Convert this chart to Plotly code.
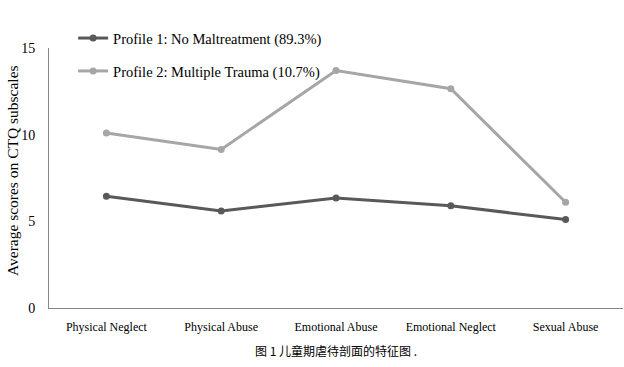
import plotly.graph_objects as go

categories = ["Physical Neglect", "Physical Abuse", "Emotional Abuse", "Emotional Neglect", "Sexual Abuse"]
profile1 = [6.45, 5.6, 6.35, 5.9, 5.1]
profile2 = [10.1, 9.15, 13.7, 12.65, 6.1]
name1 = "Profile 1: No Maltreatment (89.3%)"
name2 = "Profile 2: Multiple Trauma (10.7%)"
y_ticks = [0, 5, 10, 15]

fig = go.Figure()
fig.add_trace(go.Scatter(x=categories, y=profile1, name=name1, mode="lines+markers",
                         line=dict(color="#595959", width=3), marker=dict(size=7, color="#595959"),
                         legend="legend"))
fig.add_trace(go.Scatter(x=categories, y=profile2, name=name2, mode="lines+markers",
                         line=dict(color="#A6A6A6", width=3), marker=dict(size=7, color="#A6A6A6"),
                         legend="legend2"))

serif = "Liberation Serif, Times New Roman, serif"
fig.update_layout(
    width=624, height=367,
    margin=dict(l=49, r=1, t=48, b=59, autoexpand=False),
    paper_bgcolor="white", plot_bgcolor="white",
    font=dict(family=serif, size=13, color="#000000"),
    showlegend=True,
    legend=dict(x=0.042, y=1.038, xanchor="left", yanchor="middle", bgcolor="rgba(0,0,0,0)",
                font=dict(size=14.5, family=serif)),
    legend2=dict(x=0.042, y=0.9115, xanchor="left", yanchor="middle", bgcolor="rgba(0,0,0,0)",
                 font=dict(size=14.5, family=serif)),
    xaxis=dict(showgrid=False, showline=True, linecolor="#868686", linewidth=1,
               ticks="outside", ticklen=8, tickcolor="rgba(0,0,0,0)",
               tickfont=dict(size=12), range=[-0.5, 4.5], zeroline=False, automargin=False),
    yaxis=dict(range=[0, 15], tickvals=y_ticks, showgrid=False, showline=True,
               linecolor="#868686", linewidth=1, ticks="outside", ticklen=10,
               tickcolor="rgba(0,0,0,0)", zeroline=False, automargin=False,
               tickfont=dict(size=14)),
    annotations=[
        dict(text="图 1 儿童期虐待剖面的特征图 .", xref="paper", yref="paper",
             x=0.5, y=-0.165, xanchor="center", yanchor="middle", showarrow=False,
             font=dict(family="Noto Sans CJK SC", size=12, color="#000000")),
        dict(text="Average scores on CTQ subscales", xref="paper", yref="paper",
             x=-0.0626, y=0.527, xanchor="center", yanchor="middle", showarrow=False,
             textangle=-90, font=dict(family=serif, size=15.5, color="#000000")),
    ],
)

fig.write_html("out.html", config={"displayModeBar": False},
               post_script="document.body.style.margin='0';document.body.style.overflow='hidden';")
